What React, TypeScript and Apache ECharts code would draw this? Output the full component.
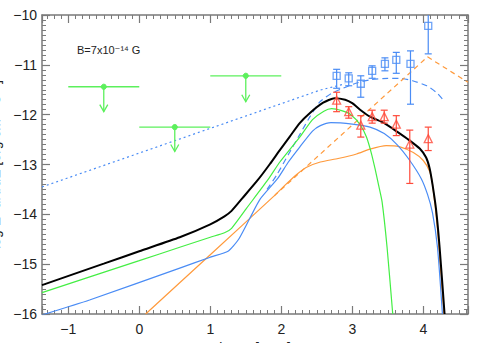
import React, { useEffect, useRef } from "react";
import * as echarts from "echarts";

// ---- data (log E [GeV], log flux) ----
const blackModel = [[-1.37,-15.42],[-0.5,-14.99],[0,-14.74],[0.57,-14.46],[1.0,-14.2],[1.2,-14.04],[1.3,-13.93],[1.45,-13.68],[1.67,-13.31],[1.84,-12.99],[1.98,-12.71],[2.12,-12.44],[2.26,-12.17],[2.4,-11.97],[2.59,-11.76],[2.75,-11.67],[2.9,-11.7],[3.0,-11.77],[3.11,-11.9],[3.25,-12.04],[3.45,-12.17],[3.63,-12.34],[3.8,-12.51],[3.95,-12.68],[4.04,-12.86],[4.09,-13.08],[4.13,-13.4],[4.18,-13.9],[4.23,-14.66],[4.3,-16.0]];
const greenModel = [[-1.37,-15.57],[0,-14.93],[0.57,-14.66],[1.0,-14.46],[1.2,-14.37],[1.3,-14.28],[1.51,-13.88],[1.81,-13.31],[1.98,-12.95],[2.26,-12.45],[2.44,-12.1],[2.6,-11.93],[2.71,-11.88],[2.85,-11.92],[2.98,-12.0],[3.11,-12.2],[3.2,-12.45],[3.27,-12.78],[3.32,-13.08],[3.37,-13.41],[3.42,-13.75],[3.49,-14.66],[3.57,-16.0]];
const blueModel = [[-1.37,-16.02],[-0.7,-15.72],[0.57,-15.08],[1.0,-14.86],[1.25,-14.74],[1.4,-14.5],[1.55,-14.1],[1.7,-13.7],[1.95,-13.28],[2.1,-12.95],[2.26,-12.65],[2.44,-12.33],[2.55,-12.22],[2.7,-12.16],[3.0,-12.19],[3.25,-12.25],[3.45,-12.38],[3.63,-12.6],[3.8,-12.9],[3.97,-13.28],[4.06,-13.6],[4.13,-13.97],[4.2,-14.66],[4.27,-16.0]];
const orangeModel = [[0.09,-16.0],[1.0,-14.81],[1.9,-13.63],[2.05,-13.42],[2.2,-13.22],[2.35,-13.06],[2.55,-12.95],[2.8,-12.88],[3.06,-12.79],[3.25,-12.69],[3.48,-12.62],[3.66,-12.64],[3.86,-12.76],[4.0,-12.92],[4.09,-13.14],[4.13,-13.4],[4.2,-14.3],[4.29,-16.0]];
const orangeIntrinsic = [[1.9,-13.63],[4.06,-10.84],[4.63,-11.35]];
const blueDotted = [[-1.37,-13.45],[2.26,-11.65],[2.54,-11.51],[2.9,-11.38]];
const blueIntrinsic = [[1.8,-13.5],[1.94,-13.2],[2.1,-12.8],[2.26,-12.4],[2.4,-12.05],[2.54,-11.75],[2.7,-11.58],[2.87,-11.47],[3.05,-11.37],[3.25,-11.3],[3.5,-11.27],[3.67,-11.27],[3.85,-11.32],[4.05,-11.42],[4.19,-11.56],[4.3,-11.74]];

const blueX = [2.78, 2.95, 3.12, 3.28, 3.46, 3.62, 3.82, 4.07];
const blueY = [-11.22, -11.27, -11.38, -11.12, -10.98, -10.90, -10.98, -10.22];
const blueLo = [-11.47, -11.42, -11.65, -11.27, -11.12, -11.17, -11.79, -10.78];
const blueHi = [-11.09, -11.16, -11.22, -11.02, -10.86, -10.75, -10.72, -9.98];

const redX = [2.78, 2.95, 3.12, 3.28, 3.45, 3.62, 3.81, 4.07];
const redY = [-11.71, -11.94, -12.21, -12.04, -12.04, -12.19, -12.59, -12.48];
const redLo = [-11.94, -12.07, -12.45, -12.17, -12.17, -12.42, -13.38, -12.72];
const redHi = [-11.55, -11.84, -12.02, -11.91, -11.91, -12.02, -12.31, -12.25];

const ulX = [-0.5, 0.5, 1.5];
const ulY = [-11.44, -12.25, -11.22];
const ulXLo = [-1.0, 0.0, 1.0];
const ulXHi = [0.0, 1.0, 2.0];
const ulArrowTo = [-11.94, -12.74, -11.74];

const X_MIN = -1.37;
const X_MAX = 4.63;
const Y_MIN = -16;
const Y_MAX = -10;

const BLUE = "#4a8cf5";
const GREEN = "#44ee44";
const ORANGE = "#ff9a3c";
const RED = "#ff4a3a";
const UL_GREEN = "#5cf05c";
const AXIS = "#7a7a7a";
const FONT = "Liberation Sans, DejaVu Sans, sans-serif";

function fmt(v: number): string {
  if (Math.abs(v - Math.round(v)) > 1e-6) return "";
  const r = Math.round(v);
  return r < 0 ? "−" + Math.abs(r) : String(r);
}

function errorBars(xs: number[], lo: number[], hi: number[], color: string) {
  return {
    type: "custom",
    z: 4,
    data: xs.map((x, i) => [x, lo[i], hi[i]]),
    encode: { x: 0, y: [1, 2] },
    renderItem: (params: any, api: any) => {
      const cs = params.coordSys;
      const x = api.value(0);
      const p1 = api.coord([x, api.value(1)]);
      const p2 = api.coord([x, api.value(2)]);
      const topY = Math.max(p2[1], cs.y);
      const children: any[] = [
        { type: "line", shape: { x1: p1[0], y1: p1[1], x2: p1[0], y2: topY }, style: { stroke: color, lineWidth: 1.2 } },
        { type: "line", shape: { x1: p1[0] - 3.5, y1: p1[1], x2: p1[0] + 3.5, y2: p1[1] }, style: { stroke: color, lineWidth: 1.2 } },
      ];
      if (p2[1] >= cs.y) {
        children.push({ type: "line", shape: { x1: p2[0] - 3.5, y1: p2[1], x2: p2[0] + 3.5, y2: p2[1] }, style: { stroke: color, lineWidth: 1.2 } });
      }
      return { type: "group", children };
    },
  };
}

function upperLimits() {
  return {
    type: "custom",
    z: 4,
    data: ulX.map((x, i) => [x, ulY[i], ulXLo[i], ulXHi[i], ulArrowTo[i]]),
    encode: { x: [0, 2, 3], y: [1, 4] },
    renderItem: (params: any, api: any) => {
      const c = api.coord([api.value(0), api.value(1)]);
      const l = api.coord([api.value(2), api.value(1)]);
      const r = api.coord([api.value(3), api.value(1)]);
      const a = api.coord([api.value(0), api.value(4)]);
      const st = { stroke: UL_GREEN, lineWidth: 1.3, fill: "none" };
      return {
        type: "group",
        children: [
          { type: "line", shape: { x1: l[0], y1: l[1], x2: r[0], y2: r[1] }, style: st },
          { type: "line", shape: { x1: c[0], y1: c[1], x2: a[0], y2: a[1] }, style: st },
          { type: "polyline", shape: { points: [[a[0] - 4, a[1] - 7], [a[0], a[1]], [a[0] + 4, a[1] - 7]] }, style: st },
          { type: "circle", shape: { cx: c[0], cy: c[1], r: 2.6 }, style: { fill: UL_GREEN, stroke: UL_GREEN } },
        ],
      };
    },
  };
}

function curve(data: number[][], color: string, width: number, type: any, smooth: number | false, z = 2) {
  return {
    type: "line",
    data,
    showSymbol: false,
    symbol: "none",
    smooth,
    z,
    lineStyle: { color, width, type },
  };
}

export default function App() {
  const ref = useRef<HTMLDivElement>(null);
  useEffect(() => {
    document.body.style.margin = "0";
    const chart = echarts.init(ref.current!, null, { renderer: "svg" });
    const tickCommon = {
      axisLine: { show: true, onZero: false, lineStyle: { color: AXIS, width: 1.5 } },
      axisTick: { show: true, inside: true, length: 8, lineStyle: { color: AXIS, width: 1.2 } },
      minorTick: { show: true, splitNumber: 10, length: 4, lineStyle: { color: AXIS, width: 1 } },
      splitLine: { show: false },
      minorSplitLine: { show: false },
    };
    chart.setOption({
      animation: false,
      grid: { left: 42, right: 13, top: 15, bottom: 29, containLabel: false, outerBoundsMode: "none" },
      xAxis: [
        {
          type: "value",
          min: X_MIN,
          max: X_MAX,
          splitNumber: 6,
          position: "bottom",
          name: "log E [GeV]",
          nameLocation: "middle",
          nameGap: 25,
          nameTextStyle: { color: "#222", fontSize: 14, fontFamily: FONT },
          ...tickCommon,
          axisLabel: { show: true, color: "#222", fontSize: 14, fontFamily: FONT, margin: 8, formatter: fmt, showMinLabel: false, showMaxLabel: false },
        },
        {
          type: "value",
          min: X_MIN,
          max: X_MAX,
          splitNumber: 6,
          position: "top",
          ...tickCommon,
          axisLabel: { show: false },
        },
      ],
      yAxis: [
        {
          type: "value",
          min: Y_MIN,
          max: Y_MAX,
          interval: 1,
          position: "left",
          name: "log E² dN/dE [erg cm⁻² s⁻¹]",
          nameLocation: "middle",
          nameGap: 38,
          nameTextStyle: { color: "#222", fontSize: 14, fontFamily: FONT },
          ...tickCommon,
          axisLabel: { show: true, color: "#222", fontSize: 14, fontFamily: FONT, margin: 5, formatter: fmt },
        },
        {
          type: "value",
          min: Y_MIN,
          max: Y_MAX,
          interval: 1,
          position: "right",
          ...tickCommon,
          axisLabel: { show: false },
        },
      ],
      graphic: [
        {
          type: "text",
          left: 77,
          top: 44,
          style: { text: "B=7x10⁻¹⁴ G", fill: "#222", fontSize: 11, fontFamily: FONT },
        },
      ],
      series: [
        curve(blueDotted, BLUE, 1.2, [2, 3], false),
        curve(blueIntrinsic, BLUE, 1.2, [6, 4], 0.2),
        curve(orangeIntrinsic, ORANGE, 1.2, [5, 4], false),
        curve(orangeModel, ORANGE, 1.2, "solid", 0.2),
        curve(blueModel, BLUE, 1.2, "solid", 0.2),
        curve(greenModel, GREEN, 1.2, "solid", 0.2),
        curve(blackModel, "#000", 2, "solid", 0.2, 3),
        errorBars(blueX, blueLo, blueHi, BLUE),
        errorBars(redX, redLo, redHi, RED),
        {
          type: "scatter",
          z: 5,
          data: blueX.map((x, i) => [x, blueY[i]]),
          symbol: "rect",
          symbolSize: 7,
          itemStyle: { color: "rgba(255,255,255,0)", borderColor: BLUE, borderWidth: 1.3 },
        },
        {
          type: "scatter",
          z: 5,
          data: redX.map((x, i) => [x, redY[i]]),
          symbol: "triangle",
          symbolSize: 8,
          itemStyle: { color: "rgba(255,255,255,0)", borderColor: RED, borderWidth: 1.3 },
        },
        upperLimits(),
      ],
    });
    return () => chart.dispose();
  }, []);
  return <div ref={ref} style={{ width: 481, height: 343 }} />;
}
